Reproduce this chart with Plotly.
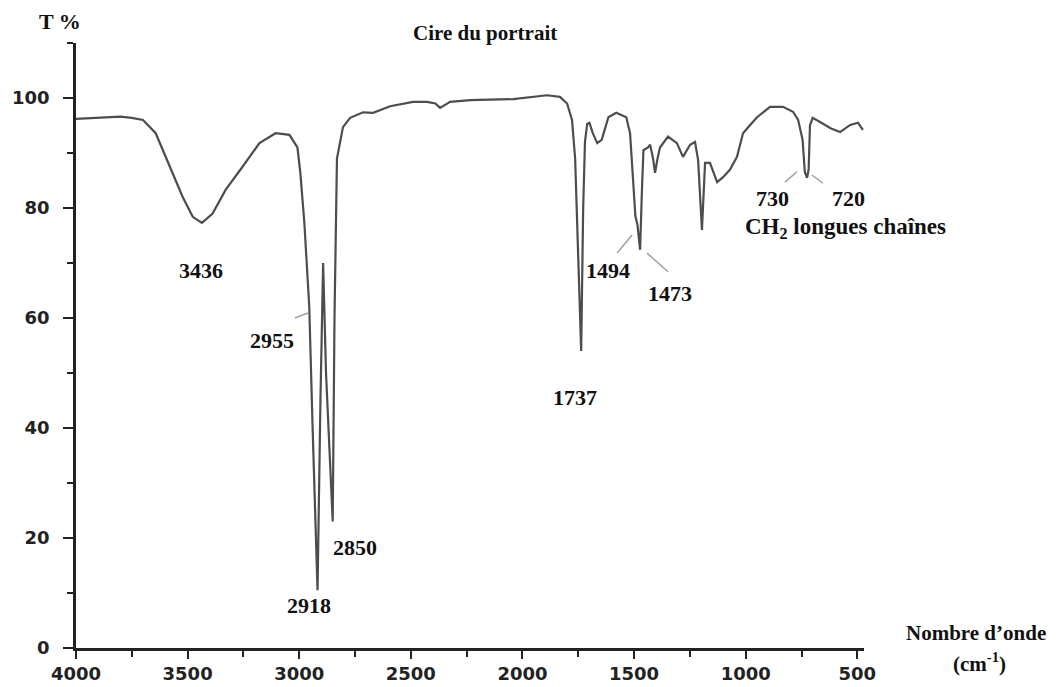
import plotly.graph_objects as go

# ---------------- data ----------------
wavenumber = [4000, 3950, 3900, 3850, 3800, 3750, 3700, 3643, 3580, 3522,
              3477, 3436, 3388, 3330, 3254, 3178, 3106, 3044, 3008, 2995,
              2977, 2963, 2955, 2940, 2918, 2905, 2893, 2880, 2850, 2842,
              2831, 2804, 2772, 2714, 2669, 2593, 2490, 2428, 2390, 2369,
              2350, 2324, 2235, 2042, 1890, 1832, 1800, 1778, 1764, 1755,
              1745, 1737, 1728, 1720, 1710, 1700, 1685, 1665, 1645, 1615,
              1580, 1535, 1518, 1505, 1494, 1485, 1473, 1465, 1458, 1438,
              1428, 1415, 1406, 1395, 1384, 1348, 1308, 1281, 1249, 1227,
              1213, 1196, 1182, 1160, 1128, 1101, 1070, 1039, 1012, 980,
              949, 891, 833, 788, 765, 745, 735, 725, 718, 712,
              700, 665, 620, 577, 532, 497, 475]
transmittance = [96.2, 96.3, 96.4, 96.4, 96.6, 96.4, 96.0, 93.6, 87.5, 82.0,
                 78.4, 77.3, 79.0, 83.3, 87.5, 91.8, 93.6, 93.3, 91.0, 86.4,
                 77.3, 68.0, 62.0, 40.0, 10.5, 45.0, 70.0, 50.0, 23.0, 60.0,
                 89.0, 94.7, 96.4, 97.4, 97.3, 98.5, 99.3, 99.3, 99.0, 98.2,
                 98.6, 99.3, 99.6, 99.8, 100.5, 100.2, 99.0, 96.0, 89.0, 77.0,
                 65.0, 54.0, 80.0, 92.0, 95.3, 95.5, 93.6, 91.8, 92.4, 96.5,
                 97.3, 96.5, 93.6, 86.4, 78.5, 77.0, 72.4, 83.0, 90.5, 91.0,
                 91.5, 89.0, 86.4, 89.0, 91.0, 93.0, 91.8, 89.3, 91.5, 92.0,
                 88.7, 76.0, 88.2, 88.2, 84.7, 85.6, 87.0, 89.3, 93.6, 95.1,
                 96.5, 98.4, 98.4, 97.5, 96.0, 92.4, 86.5, 85.5, 87.0, 95.0,
                 96.4, 95.6, 94.5, 93.8, 95.1, 95.5, 94.2]
assert len(wavenumber) == len(transmittance)

x_ticks = [4000, 3500, 3000, 2500, 2000, 1500, 1000, 500]
y_ticks = [0, 20, 40, 60, 80, 100]

peak_labels = ["3436", "2955", "2918", "2850", "1737", "1494", "1473", "730", "720"]
peak_label_x = [3440, 3122, 2956, 2750, 1765, 1617, 1339, 882, 541]
peak_label_y = [68.7, 56.0, 7.8, 18.2, 45.5, 68.7, 64.5, 81.8, 81.8]

# leader lines (wavenumber, T) start/end
leader_x0 = [3019, 1576, 1442, 824, 703]
leader_y0 = [60.0, 71.8, 71.8, 84.7, 86.0]
leader_x1 = [2961, 1509, 1348, 770, 654]
leader_y1 = [60.9, 75.1, 68.4, 86.6, 84.5]

title_text = "Cire du portrait"
y_title = "T %"
x_title = "Nombre d’onde"
x_unit = "(cm<sup>-1</sup>)"
group_label = "CH<sub>2</sub> longues chaînes"

# ---------------- layout geometry ----------------
OFF = 8                      # default body margin of the html page
W, H = 1057 - OFF, 687 - OFF
L, R, T, B = 76 - OFF, 864 - OFF, 43 - OFF, 648 - OFF   # plot area in figure px
PW, PH = R - L, B - T


def px(xp):  # page pixel -> paper x
    return (xp - OFF - L) / PW


def py(yp):  # page pixel -> paper y
    return (B - (yp - OFF)) / PH


def serif(size):
    return dict(family="Liberation Serif", size=size, color="#111", weight="bold")


fig = go.Figure()
fig.add_trace(go.Scatter(
    x=wavenumber, y=transmittance, mode="lines",
    line=dict(color="#4d4d4d", width=2.2),
    hoverinfo="x+y", showlegend=False,
))

for t, xx, yy in zip(peak_labels, peak_label_x, peak_label_y):
    fig.add_annotation(x=xx, y=yy, text=t, showarrow=False,
                       xanchor="center", yanchor="middle", font=serif(22))

for a, b, c, d in zip(leader_x0, leader_y0, leader_x1, leader_y1):
    fig.add_shape(type="line", x0=a, y0=b, x1=c, y1=d, xref="x", yref="y",
                  line=dict(color="#a0a0a0", width=1.5))

fig.add_annotation(x=555, y=76.4, text=group_label, showarrow=False,
                   xanchor="center", yanchor="middle", font=serif(23))

fig.add_annotation(xref="paper", yref="paper", x=px(485), y=py(33), text=title_text,
                   showarrow=False, xanchor="center", yanchor="middle", font=serif(21))
fig.add_annotation(xref="paper", yref="paper", x=px(60), y=py(22), text=y_title,
                   showarrow=False, xanchor="center", yanchor="middle", font=serif(22))

# axis title at bottom right
fig.add_annotation(xref="paper", yref="paper", x=px(976), y=py(633),
                   text=x_title, showarrow=False, xanchor="center", yanchor="middle",
                   font=serif(21))
fig.add_annotation(xref="paper", yref="paper", x=px(979), y=py(662),
                   text=x_unit, showarrow=False, xanchor="center", yanchor="middle",
                   font=serif(21))

tickfont = dict(family="DejaVu Sans", size=18, color="#222", weight="bold")

fig.update_layout(
    width=W, height=H,
    margin=dict(l=L, r=W - R, t=T, b=H - B, autoexpand=False),
    paper_bgcolor="white", plot_bgcolor="white",
    xaxis=dict(
        range=[4000, 470], tickvals=x_ticks, ticktext=[str(v) for v in x_ticks],
        showgrid=False, zeroline=False, showline=True, linecolor="#222", linewidth=2.5,
        ticks="outside", ticklen=8, tickwidth=2, tickcolor="#222", automargin=False,
        minor=dict(dtick=250, tick0=0, ticks="outside", ticklen=6, tickwidth=2,
                   tickcolor="#222", showgrid=False),
        tickfont=tickfont,
    ),
    yaxis=dict(
        range=[0, 110], tickvals=y_ticks, ticktext=[str(v) for v in y_ticks],
        showgrid=False, zeroline=False, showline=True, linecolor="#222", linewidth=2.5,
        ticks="outside", ticklen=10, tickwidth=2, tickcolor="#222", automargin=False,
        minor=dict(dtick=10, tick0=0, ticks="outside", ticklen=6, tickwidth=2,
                   tickcolor="#222", showgrid=False),
        tickfont=tickfont, ticklabelstandoff=10,
    ),
)

fig.write_html("out.html")
